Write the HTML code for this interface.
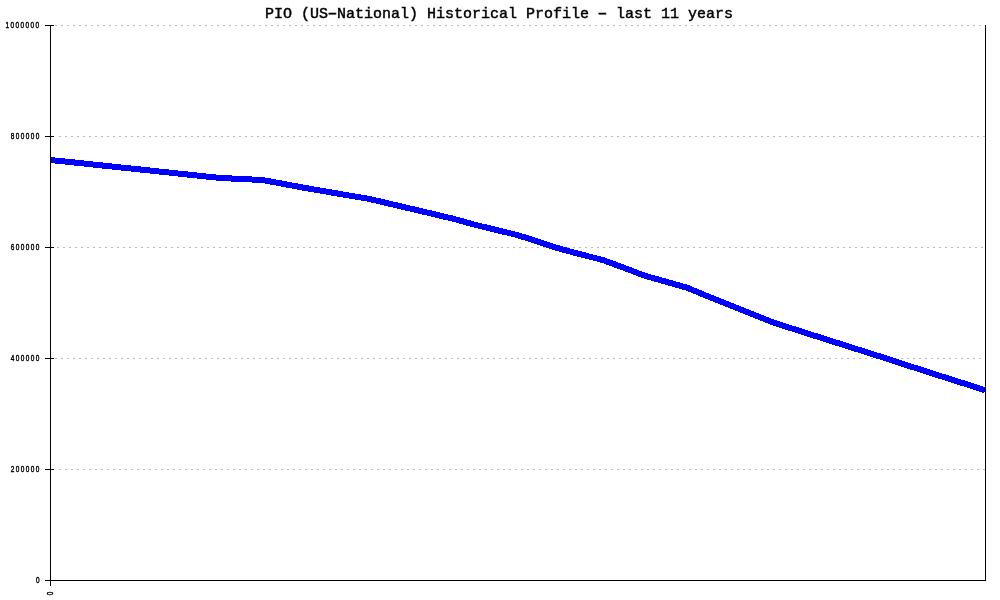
<!DOCTYPE html>
<html><head><meta charset="utf-8"><title>PIO (US-National) Historical Profile</title>
<style>
html,body{margin:0;padding:0;background:#fff;}
body{width:1000px;height:600px;position:relative;overflow:hidden;font-family:"Liberation Mono",monospace;color:#000;}
.k{position:absolute;height:1px;background:#000;}
.v{position:absolute;width:1px;background:#000;}
.title{position:absolute;left:265px;top:6px;width:470px;height:17px;line-height:17px;font-size:15px;font-weight:normal;-webkit-text-stroke:0.45px #000;white-space:pre;letter-spacing:0;}
.title .h{display:inline-block;transform:scaleX(1.7);transform-origin:50% 50%;}
.yl{position:absolute;right:959.3px;height:16px;line-height:16px;text-align:right;font-family:"Liberation Sans",sans-serif;font-size:9px;font-weight:normal;-webkit-text-stroke:0.45px #000;white-space:pre;}
.yl span{display:inline-block;transform:scaleX(0.72);transform-origin:100% 50%;letter-spacing:1.94px;}
.xl{position:absolute;left:42px;top:585px;width:16px;height:16px;line-height:16px;text-align:center;font-family:"Liberation Sans",sans-serif;font-size:9px;font-weight:normal;-webkit-text-stroke:0.45px #000;transform:rotate(-90deg);transform-origin:50% 50%;}
.xl span{display:inline-block;transform:scaleX(0.72);}
svg{position:absolute;left:0;top:0;}
</style></head><body>
<div class="title">PIO (US<span class="h">-</span>National) Historical Profile <span class="h">-</span> last 11 years</div>
<svg width="1000" height="600" viewBox="0 0 1000 600" shape-rendering="crispEdges">
<g stroke="#bcbcbc" stroke-width="1" stroke-dasharray="2 4" fill="none">
<line x1="55" y1="25.5" x2="985" y2="25.5"/>
<line x1="59" y1="136.5" x2="985" y2="136.5"/>
<line x1="57" y1="247.5" x2="985" y2="247.5"/>
<line x1="55" y1="358.5" x2="985" y2="358.5"/>
<line x1="59" y1="469.5" x2="985" y2="469.5"/>
</g>
<polyline fill="none" stroke="#0000ff" stroke-width="6" stroke-linejoin="round" points="50.00,159.97 71.25,162.17 92.50,164.45 113.75,166.72 135.00,168.95 156.25,171.18 177.50,173.44 198.75,175.72 220.00,177.93 241.25,179.01 262.50,180.00 283.75,183.94 305.00,187.96 326.25,191.55 347.50,195.27 368.75,198.78 390.00,203.84 411.25,208.78 432.50,213.81 453.75,218.85 475.00,224.81 496.25,229.94 517.50,235.08 538.75,241.91 560.00,248.82 581.25,254.50 602.50,259.93 623.75,267.70 645.00,275.82 666.25,281.76 687.50,287.86 708.75,296.76 730.00,305.25 751.25,313.75 772.50,322.25 793.75,329.05 815.00,335.83 836.25,342.61 857.50,349.33 878.75,356.09 900.00,363.09 921.25,369.81 942.50,376.67 963.75,383.39 985.00,390.17"/>
</svg>
<div class="v" style="left:50px;top:25px;height:561px"></div>
<div class="v" style="left:985px;top:25px;height:556px"></div>
<div class="k" style="left:45px;top:580px;width:941px"></div>
<div class="k" style="left:45px;top:25px;width:9px"></div>
<div class="k" style="left:45px;top:136px;width:9px"></div>
<div class="k" style="left:45px;top:247px;width:9px"></div>
<div class="k" style="left:45px;top:358px;width:9px"></div>
<div class="k" style="left:45px;top:469px;width:9px"></div>
<div class="k" style="left:45px;top:580px;width:5px"></div>
<div class="yl" style="top:17px"><span>1000000</span></div>
<div class="yl" style="top:128px"><span>800000</span></div>
<div class="yl" style="top:239px"><span>600000</span></div>
<div class="yl" style="top:350px"><span>400000</span></div>
<div class="yl" style="top:461px"><span>200000</span></div>
<div class="yl" style="top:572px"><span>0</span></div>
<div class="xl"><span>0</span></div>
</body></html>
